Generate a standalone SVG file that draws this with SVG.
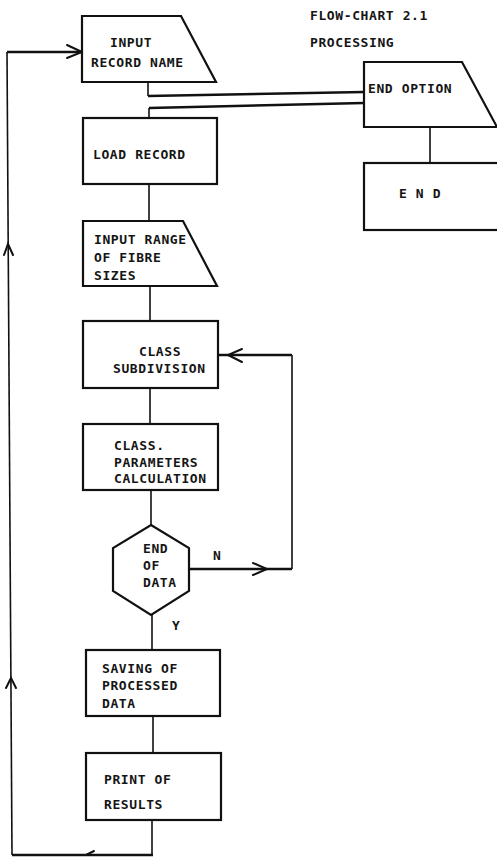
<svg xmlns="http://www.w3.org/2000/svg" width="497" height="857" viewBox="0 0 497 857">
<style>
.shape{fill:#fff;stroke:#111;stroke-width:2.2;stroke-linejoin:miter}
.con{fill:none;stroke:#111;stroke-width:1.6}
.conh{fill:none;stroke:#111;stroke-width:2.4}
.head{fill:none;stroke:#111;stroke-width:2;stroke-linecap:round;stroke-linejoin:miter}
text{font-family:"DejaVu Sans Mono","Liberation Mono",monospace;font-size:13px;font-weight:bold;letter-spacing:0.6px;fill:#151515}
</style>
<rect width="497" height="857" fill="#fff"/>
<g id="connectors">
<path class="con" d="M152,820 V855"/>
<path class="conh" d="M153,855 H12"/>
<path class="con" d="M12,855 L7,52"/>
<path class="conh" d="M7,52 H82"/>
<path class="head" d="M67,45 L82,52 L67,58"/>
<path class="head" d="M4,255 L8,244 L13,255"/>
<path class="head" d="M6,688 L11,678 L16,688"/>
<path class="head" d="M86,855 L94,851"/>
<path class="con" d="M148,82 V96"/>
<path class="conh" d="M148,96 L364,92"/>
<path class="conh" d="M364,103 L149,108"/>
<path class="con" d="M149,108 V118"/>
<path class="con" d="M430,127 V163"/>
<path class="con" d="M149,184 V221"/>
<path class="con" d="M150,286 V321"/>
<path class="con" d="M150,388 V424"/>
<path class="con" d="M151,490 V525"/>
<path class="con" d="M152,615 V650"/>
<path class="con" d="M153,716 V753"/>
<path class="conh" d="M189,569 H292"/>
<path class="con" d="M292,569 V355"/>
<path class="conh" d="M292,355 H218"/>
<path class="head" d="M253,563 L267,569 L253,575"/>
<path class="head" d="M242,349 L228,355 L242,362"/>
</g>
<g id="title">
<text x="310" y="20">FLOW-CHART 2.1</text>
<text x="310" y="47">PROCESSING</text>
</g>
<g id="input-record-name">
<polygon class="shape" points="82,16 181,16 216,82 82,82"/>
<text x="110" y="47">INPUT</text>
<text x="91" y="67">RECORD NAME</text>
</g>
<g id="end-option">
<polygon class="shape" points="364,62 462,62 497,127 364,127"/>
<text x="368" y="93">END OPTION</text>
</g>
<g id="end">
<rect class="shape" x="364" y="163" width="150" height="67"/>
<text x="399" y="198">E N D</text>
</g>
<g id="load-record">
<rect class="shape" x="83" y="118" width="134" height="66"/>
<text x="93" y="159">LOAD RECORD</text>
</g>
<g id="input-range">
<polygon class="shape" points="83,221 183,221 217,286 83,286"/>
<text x="94" y="244">INPUT RANGE</text>
<text x="94" y="262">OF FIBRE</text>
<text x="94" y="280">SIZES</text>
</g>
<g id="class-subdivision">
<rect class="shape" x="83" y="321" width="135" height="67"/>
<text x="139" y="356">CLASS</text>
<text x="113" y="373">SUBDIVISION</text>
</g>
<g id="class-parameters">
<rect class="shape" x="83" y="424" width="135" height="66"/>
<text x="114" y="450">CLASS.</text>
<text x="114" y="467">PARAMETERS</text>
<text x="114" y="483">CALCULATION</text>
</g>
<g id="end-of-data">
<polygon class="shape" points="151,525 189,548 189,591 151,615 113,591 113,548"/>
<text x="143" y="553">END</text>
<text x="143" y="570">OF</text>
<text x="143" y="587">DATA</text>
<text x="213" y="560">N</text>
<text x="172" y="630">Y</text>
</g>
<g id="saving">
<rect class="shape" x="86" y="650" width="134" height="66"/>
<text x="102" y="673">SAVING OF</text>
<text x="102" y="690">PROCESSED</text>
<text x="102" y="708">DATA</text>
</g>
<g id="print">
<rect class="shape" x="86" y="753" width="135" height="67"/>
<text x="104" y="784">PRINT OF</text>
<text x="104" y="809">RESULTS</text>
</g>
</svg>
